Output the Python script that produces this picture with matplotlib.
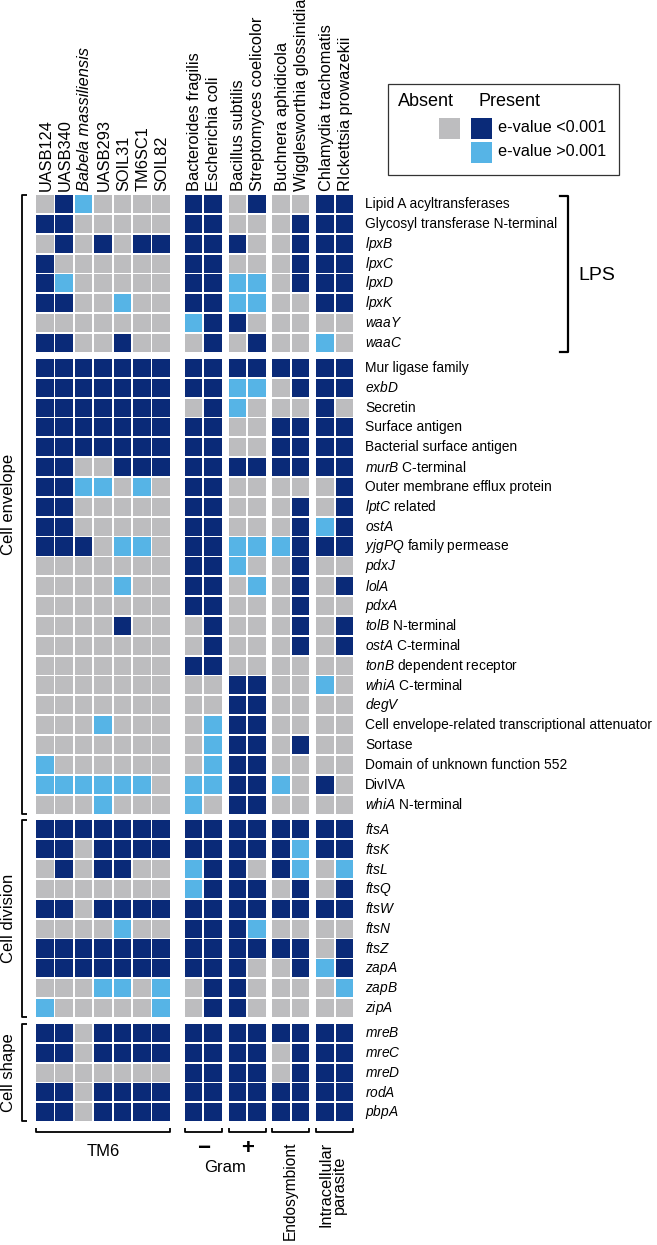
import matplotlib
matplotlib.use("Agg")
import matplotlib.pyplot as plt
from matplotlib.patches import Rectangle

plt.rcParams['font.family'] = ['Liberation Sans', 'DejaVu Sans']
plt.rcParams['mathtext.fontset'] = 'custom'
plt.rcParams['mathtext.rm'] = 'Liberation Sans'
plt.rcParams['mathtext.it'] = 'Liberation Sans:italic'

# columns (organisms) and their groups
species = ["UASB124", "UASB340", "Babela massiliensis", "UASB293", "SOIL31", "TM6SC1", "SOIL82",
           "Bacteroides fragilis", "Escherichia coli",
           "Bacillus subtilis", "Streptomyces coelicolor",
           "Buchnera aphidicola", "Wigglesworthia glossinidia",
           "Chlamydia trachomatis", "RIckettsia prowazekii"]
group_sizes = [7, 2, 2, 2, 2]

# 0 = absent, 1 = present e-value <0.001, 2 = present e-value >0.001
lps_genes = ["Lipid A acyltransferases", "Glycosyl transferase N-terminal",
             r"$\mathit{lpxB}$", r"$\mathit{lpxC}$", r"$\mathit{lpxD}$", r"$\mathit{lpxK}$",
             r"$\mathit{waaY}$", r"$\mathit{waaC}$"]
lps_vals = [
    [0, 1, 2, 0, 0, 0, 0, 1, 1, 0, 1, 0, 0, 1, 1],
    [1, 1, 0, 0, 0, 0, 0, 1, 1, 0, 0, 0, 1, 1, 1],
    [0, 1, 0, 1, 0, 1, 1, 1, 1, 1, 0, 0, 1, 1, 1],
    [1, 0, 0, 0, 0, 0, 0, 1, 1, 0, 0, 0, 1, 1, 1],
    [1, 2, 0, 0, 0, 0, 0, 1, 1, 2, 2, 0, 1, 1, 1],
    [1, 1, 0, 0, 2, 0, 0, 1, 1, 2, 2, 0, 0, 1, 1],
    [0, 0, 0, 0, 0, 0, 0, 2, 1, 1, 0, 0, 0, 0, 0],
    [1, 1, 0, 0, 1, 0, 0, 0, 1, 0, 1, 0, 0, 2, 0],
]

envelope_genes = ["Mur ligase family", r"$\mathit{exbD}$", "Secretin", "Surface antigen",
                  "Bacterial surface antigen", r"$\mathit{murB}$ C-terminal",
                  "Outer membrane efflux protein", r"$\mathit{lptC}$ related", r"$\mathit{ostA}$",
                  r"$\mathit{yjgPQ}$ family permease", r"$\mathit{pdxJ}$", r"$\mathit{lolA}$",
                  r"$\mathit{pdxA}$", r"$\mathit{tolB}$ N-terminal", r"$\mathit{ostA}$ C-terminal",
                  r"$\mathit{tonB}$ dependent receptor", r"$\mathit{whiA}$ C-terminal",
                  r"$\mathit{degV}$", "Cell envelope-related transcriptional attenuator",
                  "Sortase", "Domain of unknown function 552", "DivIVA",
                  r"$\mathit{whiA}$ N-terminal"]
envelope_vals = [
    [1, 1, 1, 1, 1, 1, 1, 1, 1, 1, 1, 1, 1, 1, 1],
    [1, 1, 1, 1, 1, 1, 1, 1, 1, 2, 2, 0, 1, 1, 1],
    [1, 1, 1, 1, 1, 1, 1, 0, 1, 2, 0, 0, 0, 1, 0],
    [1, 1, 1, 1, 1, 1, 1, 1, 1, 0, 0, 1, 1, 1, 1],
    [1, 1, 1, 1, 1, 1, 1, 1, 1, 0, 0, 1, 1, 1, 1],
    [1, 1, 0, 0, 1, 1, 1, 1, 1, 1, 1, 1, 1, 1, 1],
    [1, 1, 2, 2, 0, 2, 0, 1, 1, 0, 0, 0, 0, 0, 1],
    [1, 1, 0, 0, 0, 0, 0, 1, 1, 0, 0, 0, 1, 0, 1],
    [1, 1, 0, 0, 0, 0, 0, 1, 1, 0, 0, 0, 1, 2, 1],
    [1, 1, 1, 0, 2, 2, 0, 1, 1, 2, 2, 2, 1, 1, 1],
    [0, 0, 0, 0, 0, 0, 0, 1, 1, 2, 0, 0, 1, 0, 0],
    [0, 0, 0, 0, 2, 0, 0, 1, 1, 0, 2, 0, 1, 0, 1],
    [0, 0, 0, 0, 0, 0, 0, 1, 1, 0, 0, 0, 1, 0, 0],
    [0, 0, 0, 0, 1, 0, 0, 0, 1, 0, 0, 0, 1, 0, 1],
    [0, 0, 0, 0, 0, 0, 0, 0, 1, 0, 0, 0, 1, 0, 1],
    [0, 0, 0, 0, 0, 0, 0, 1, 1, 0, 0, 0, 0, 0, 0],
    [0, 0, 0, 0, 0, 0, 0, 0, 0, 1, 1, 0, 0, 2, 0],
    [0, 0, 0, 0, 0, 0, 0, 0, 0, 1, 1, 0, 0, 0, 0],
    [0, 0, 0, 2, 0, 0, 0, 0, 2, 1, 1, 0, 0, 0, 0],
    [0, 0, 0, 0, 0, 0, 0, 0, 2, 1, 1, 0, 1, 0, 0],
    [2, 0, 0, 0, 0, 0, 0, 0, 2, 1, 1, 0, 0, 0, 0],
    [2, 2, 2, 2, 2, 2, 0, 2, 2, 1, 1, 2, 0, 1, 0],
    [0, 0, 0, 2, 0, 0, 0, 2, 0, 1, 1, 0, 0, 0, 0],
]

division_genes = [r"$\mathit{ftsA}$", r"$\mathit{ftsK}$", r"$\mathit{ftsL}$", r"$\mathit{ftsQ}$",
                  r"$\mathit{ftsW}$", r"$\mathit{ftsN}$", r"$\mathit{ftsZ}$", r"$\mathit{zapA}$",
                  r"$\mathit{zapB}$", r"$\mathit{zipA}$"]
division_vals = [
    [1, 1, 1, 1, 1, 1, 1, 1, 1, 1, 1, 1, 1, 1, 1],
    [1, 1, 0, 1, 1, 1, 1, 1, 1, 1, 1, 1, 2, 1, 1],
    [0, 1, 0, 1, 1, 0, 0, 2, 1, 1, 0, 1, 2, 0, 2],
    [0, 0, 0, 0, 0, 0, 0, 2, 1, 1, 1, 0, 1, 0, 1],
    [1, 1, 0, 1, 1, 1, 1, 1, 1, 1, 1, 1, 1, 1, 1],
    [0, 0, 0, 0, 2, 0, 0, 1, 1, 1, 2, 0, 0, 0, 0],
    [1, 1, 1, 1, 1, 1, 1, 1, 1, 1, 1, 1, 1, 0, 1],
    [1, 1, 1, 1, 1, 1, 1, 1, 1, 1, 0, 0, 1, 2, 1],
    [0, 0, 0, 2, 2, 0, 2, 0, 1, 1, 0, 0, 0, 0, 2],
    [2, 0, 0, 0, 0, 0, 2, 0, 1, 1, 0, 0, 0, 0, 0],
]

shape_genes = [r"$\mathit{mreB}$", r"$\mathit{mreC}$", r"$\mathit{mreD}$", r"$\mathit{rodA}$",
               r"$\mathit{pbpA}$"]
shape_vals = [
    [1, 1, 0, 1, 1, 1, 1, 1, 1, 1, 1, 1, 1, 1, 1],
    [1, 1, 0, 1, 1, 1, 1, 1, 1, 1, 1, 0, 1, 1, 1],
    [0, 0, 0, 0, 0, 0, 0, 1, 1, 1, 1, 0, 1, 1, 1],
    [1, 1, 0, 1, 1, 1, 1, 1, 1, 1, 1, 1, 1, 1, 1],
    [1, 1, 0, 1, 1, 1, 1, 1, 1, 1, 1, 1, 1, 1, 1],
]

colors = {0: "#bdbdbf", 1: "#0a2a78", 2: "#56b4e6"}

fig = plt.figure(figsize=(6.57, 12.45), dpi=100)
ax = fig.add_axes([0, 0, 1, 1])
ax.set_xlim(0, 657)
ax.set_ylim(1245, 0)
ax.axis("off")

# layout (pixels)
x0, cp = 36.0, 19.4
col_gap = [0, 13, 5, 5, 5]
y0, rp = 195.0, 19.85
row_gap = 5.0
line = 1.8

col_x = []
g_off = 0
k = 0
group_span = []
for g, n in enumerate(group_sizes):
    g_off += col_gap[g]
    start = x0 + k * cp + g_off
    for i in range(n):
        col_x.append(x0 + k * cp + g_off)
        k += 1
    group_span.append((start, x0 + k * cp + g_off - line))

row_blocks = [(lps_genes, lps_vals), (envelope_genes, envelope_vals),
              (division_genes, division_vals), (shape_genes, shape_vals)]
block_span = []
r = 0
for b, (genes, vals) in enumerate(row_blocks):
    off = b * row_gap
    top = y0 + r * rp + off
    for gene, row in zip(genes, vals):
        y = y0 + r * rp + off
        for c, v in enumerate(row):
            ax.add_patch(Rectangle((col_x[c], y), cp - line, rp - line,
                                   facecolor=colors[v], edgecolor="none"))
        ax.text(365, y + (rp - line) / 2, gene, fontsize=9.9, ha="left", va="center")
        r += 1
    block_span.append((top, y0 + (r - 1) * rp + off + rp - line))

# column headers
for c, name in enumerate(species):
    ax.text(col_x[c] + (cp - line) / 2 + 1, 191, name, rotation=90, ha="center", va="bottom",
            fontsize=11.8, fontstyle="italic" if name.startswith("Babela") else "normal")

# left brackets
bk = dict(color="black", lw=1.3, solid_capstyle="butt")
side = [("Cell envelope", block_span[0][0], block_span[1][1]),
        ("Cell division", block_span[2][0], block_span[2][1]),
        ("Cell shape", block_span[3][0], block_span[3][1])]
for name, t, b in side:
    ax.plot([27, 21.7, 21.7, 27], [t, t, b, b], **bk)
    ax.text(9, (t + b) / 2, name, rotation=90, ha="center", va="center", fontsize=12)

# LPS bracket
t, b = block_span[0]
ax.plot([560, 567.5, 567.5, 560], [t + 1, t + 1, b, b], color="black", lw=1.6)
ax.text(578, (t + b) / 2 + 2, "LPS", fontsize=14, ha="left", va="center")

# bottom brackets
yb = block_span[3][1] + 11
for (s, e) in group_span:
    ax.plot([s, s, e, e], [yb - 4.5, yb, yb, yb - 4.5], **bk)
ax.text((group_span[0][0] + group_span[0][1]) / 2, 1152, "TM6", fontsize=12, ha="center", va="center")
ax.text((group_span[1][0] + group_span[1][1]) / 2, 1149, "\u2212", fontsize=16, fontweight="bold",
        ha="center", va="center")
ax.text((group_span[2][0] + group_span[2][1]) / 2, 1149, "+", fontsize=16, fontweight="bold",
        ha="center", va="center")
ax.text((group_span[1][1] + group_span[2][0]) / 2, 1167, "Gram", fontsize=12, ha="center", va="center")
ax.text((group_span[3][0] + group_span[3][1]) / 2 - 1, 1142, "Endosymbiont", rotation=90,
        fontsize=11.2, ha="center", va="top")
ax.text((group_span[4][0] + group_span[4][1]) / 2 - 2, 1142, "Intracellular\nparasite", rotation=90,
        fontsize=11.8, ha="center", va="top", multialignment="center", linespacing=0.95)

# legend
ax.add_patch(Rectangle((388, 83.5), 230.5, 91, facecolor="none", edgecolor="#333333", lw=0.9))
ax.text(398, 102, "Absent", fontsize=13, ha="left", va="center")
ax.text(478, 102, "Present", fontsize=13, ha="left", va="center")
ax.add_patch(Rectangle((439, 117.5), 21, 21, facecolor=colors[0], edgecolor="none"))
ax.add_patch(Rectangle((471, 117.5), 21, 21, facecolor=colors[1], edgecolor="none"))
ax.add_patch(Rectangle((471, 141.5), 21, 21, facecolor=colors[2], edgecolor="none"))
ax.text(498, 128, "e-value <0.001", fontsize=11.7, ha="left", va="center")
ax.text(498, 152, "e-value >0.001", fontsize=11.7, ha="left", va="center")

fig.savefig("out.png", dpi=100)
